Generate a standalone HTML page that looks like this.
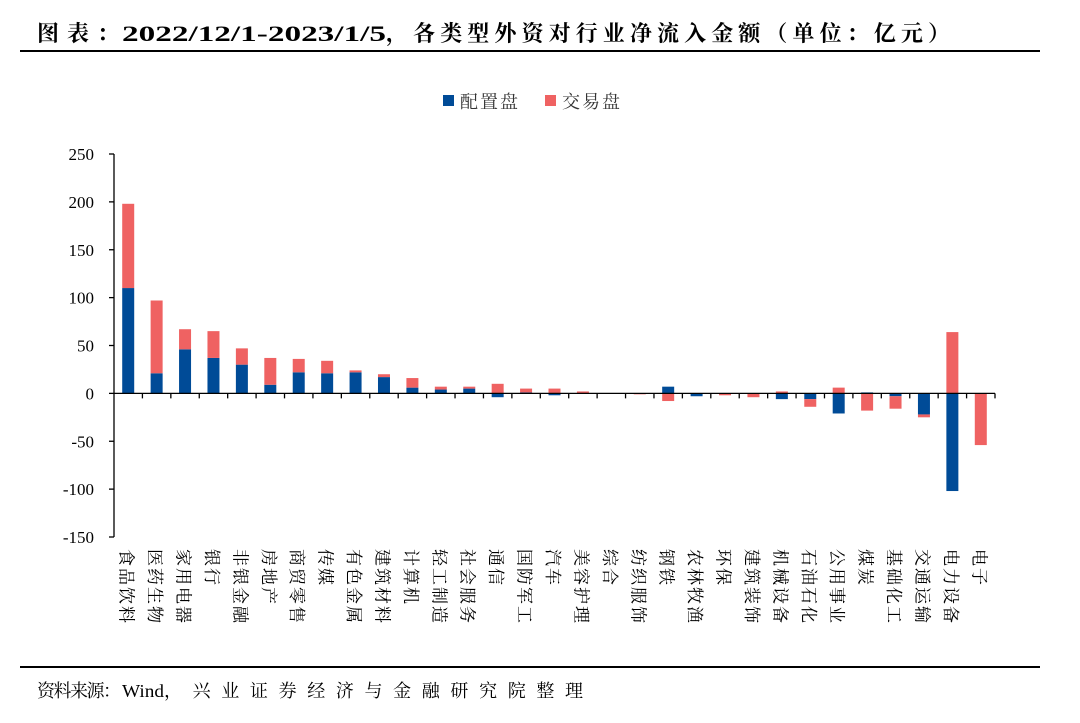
<!DOCTYPE html>
<html><head><meta charset="utf-8"><style>
body{margin:0;background:#fff;width:1080px;height:723px;overflow:hidden;position:relative;font-family:"Liberation Serif","Noto Serif CJK SC",serif;}
.rule{position:absolute;left:20px;width:1020px;height:2px;background:#000;}
</style></head><body>
<svg id="c" width="1080" height="723" style="position:absolute;left:0;top:0">
<text y="41" font-size="22" font-weight="bold" lengthAdjust="spacing" font-family="Liberation Serif, Noto Serif CJK SC, serif"><tspan x="37" textLength="82" lengthAdjust="spacing">图表：</tspan><tspan x="122" textLength="264" lengthAdjust="spacingAndGlyphs">2022/12/1-2023/1/5</tspan><tspan x="386" textLength="564" lengthAdjust="spacing">，各类型外资对行业净流入金额（单位：亿元）</tspan></text>
<text y="697" font-size="18" font-family="Liberation Serif, Noto Serif CJK SC, serif"><tspan x="37" textLength="84" lengthAdjust="spacing">资料来源：</tspan><tspan x="122" textLength="42" lengthAdjust="spacingAndGlyphs">Wind</tspan><tspan x="164" textLength="419" lengthAdjust="spacing">，兴业证券经济与金融研究院整理</tspan></text>
</svg>
<div class="rule" style="top:50px"></div>
<div class="rule" style="top:666px"></div>
<script>
const categories=["食品饮料","医药生物","家用电器","银行","非银金融","房地产","商贸零售","传媒","有色金属","建筑材料","计算机","轻工制造","社会服务","通信","国防军工","汽车","美容护理","综合","纺织服饰","钢铁","农林牧渔","环保","建筑装饰","机械设备","石油石化","公用事业","煤炭","基础化工","交通运输","电力设备","电子"];
const peizhi=[110,21,46,37,30,9,22,21,22,17,6,4,5,-4,1,-2,0,0,0,7,-3,0,0,-6,-6,-21,1,-3,-22,-102,0];
const jiaoyi=[88,76,21,28,17,28,14,13,2,3,10,3,2,10,4,5,2,0,-1,-8,0,-2,-4,2,-8,6,-18,-13,-3,64,-54];
const ticks=[250,200,150,100,50,0,-50,-100,-150];
const NS="http://www.w3.org/2000/svg";
const svg=document.getElementById('c');
const x0=114,x1=995,yTop=154,yBot=537,vMax=250,vMin=-150;
const y=v=>yTop+(vMax-v)*(yBot-yTop)/(vMax-vMin);
const step=(x1-x0)/categories.length;
const cx=i=>x0+step*(i+0.5);
function mk(tag,attrs){const e=document.createElementNS(NS,tag);for(const k in attrs)e.setAttribute(k,attrs[k]);svg.appendChild(e);return e;}
let ax=mk('line',{x1:x0,x2:x0,y1:yTop,y2:yBot,stroke:'#000','stroke-width':1.3});


ticks.forEach(t=>{
  const l=mk('line',{x1:x0-5,x2:x0,y1:y(t),y2:y(t),stroke:'#000','stroke-width':1.3});
  
  
  const tx=mk('text',{x:x0-20,y:y(t)+6,'text-anchor':'end','font-size':17,'font-family':'Liberation Serif, serif',fill:'#000'});
  tx.textContent=t;
  
  
});
const bw=12;
categories.forEach((c,i)=>{
  let pos=0,neg=0;
  [[peizhi[i],'#004B97','bar-peizhi'],[jiaoyi[i],'#EF6262','bar-jiaoyi']].forEach(([v,col,nm])=>{
    let a,b;
    if(v>=0){a=pos;b=pos+v;pos=b;}else{a=neg;b=neg+v;neg=b;}
    const r=mk('rect',{x:cx(i)-bw/2,y:Math.min(y(a),y(b)),width:bw,height:Math.abs(y(a)-y(b)),fill:col});
    
    
  });
  const tk=mk('line',{x1:x0+step*(i+1),x2:x0+step*(i+1),y1:y(0),y2:y(0)+5,stroke:'#000','stroke-width':1.3});
  
  
  const t=mk('text',{x:0,y:0,transform:`translate(${cx(i)},549) rotate(90)`,'dominant-baseline':'central','font-size':17,'letter-spacing':2,'font-family':'Noto Serif CJK SC, serif',fill:'#000'});
  t.textContent=c;
  
  
});
let xa=mk('line',{x1:x0,x2:x1,y1:y(0),y2:y(0),stroke:'#000','stroke-width':1.3});


[['配置盘','#004B97',443],['交易盘','#EF6262',545]].forEach(([n,col,lx])=>{
  const r=mk('rect',{x:lx,y:95,width:11,height:11,fill:col});
  
  
  const t=mk('text',{x:lx+17,y:108,'font-size':18,'letter-spacing':2,'font-family':'Noto Serif CJK SC, serif',fill:'#333'});
  t.textContent=n;
  
  
});
</script>
</body></html>
